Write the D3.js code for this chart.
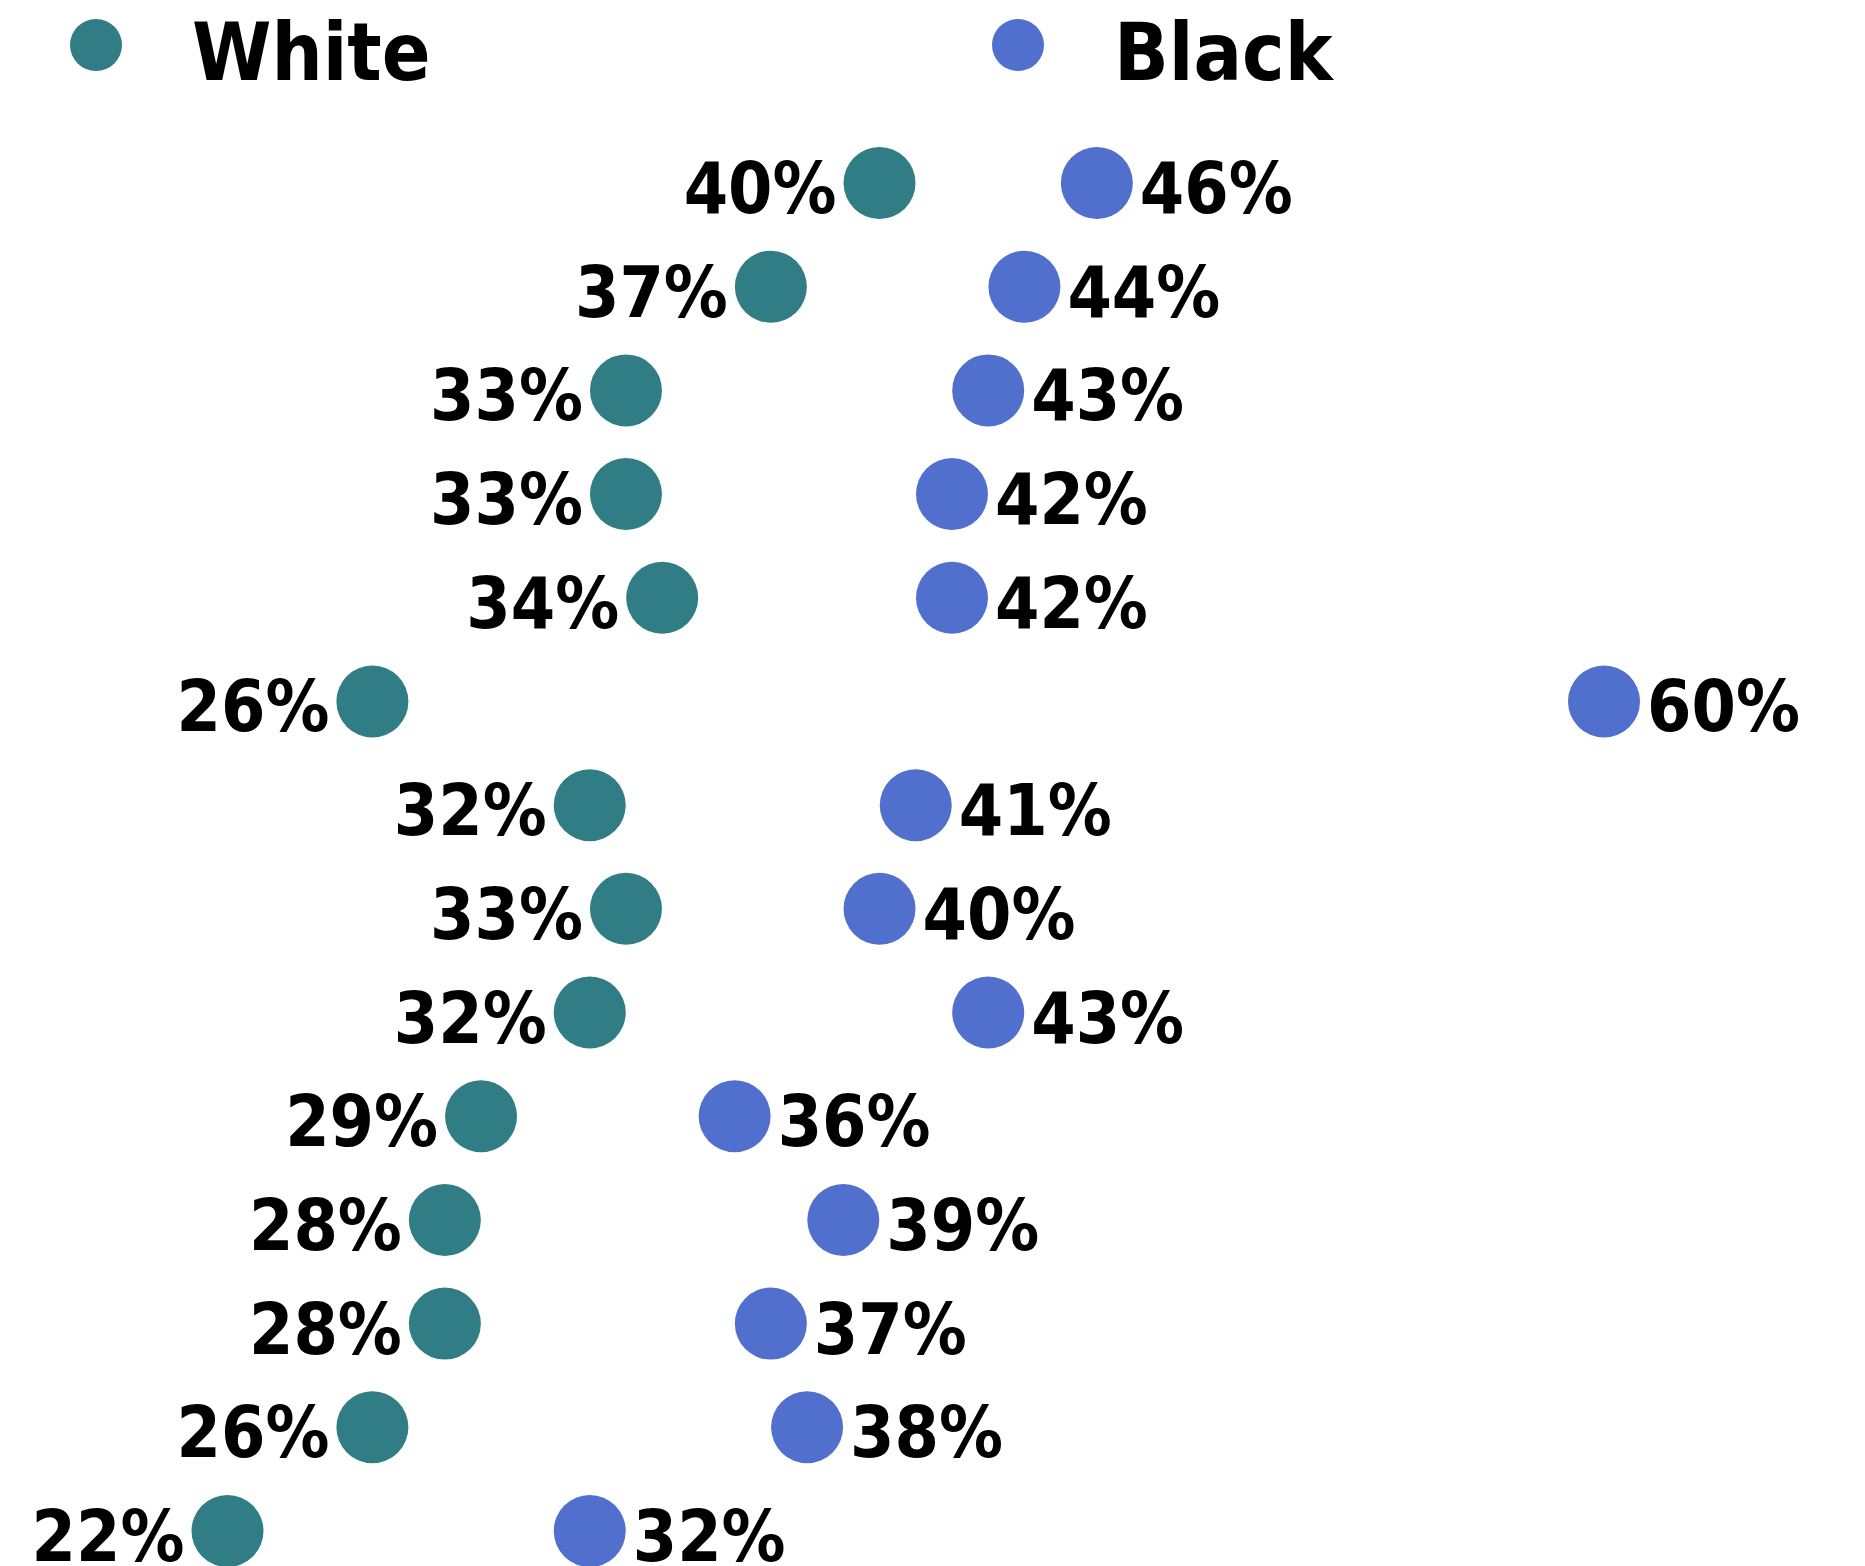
<!DOCTYPE html>
<html>
<head>
<meta charset="utf-8">
<script src="https://cdn.jsdelivr.net/npm/d3@7"></script>
<style>
  html, body { margin: 0; padding: 0; background: #fff; }
  svg { display: block; }
  text { font-family: 'DejaVu Sans Condensed', 'DejaVu Sans', sans-serif; font-stretch: condensed; font-weight: bold; fill: #000; }
</style>
</head>
<body>
<svg id="chart" width="1865" height="1566"></svg>
<script>
const categories = ["1","2","3","4","5","6","7","8","9","10","11","12","13","14"];
const white = [40,37,33,33,34,26,32,33,32,29,28,28,26,22];
const black = [46,44,43,42,42,60,41,40,43,36,39,37,38,32];
const seriesNames = ["White","Black"];
const colors = ["#317d86","#516fcd"];

const W = 1865, H = 1566;
const svg = d3.select("#chart");

const x = d3.scaleLinear()
  .domain([d3.min(white.concat(black)), d3.max(white.concat(black))])
  .range([227.5, 1604]);
const y = d3.scalePoint().domain(categories).range([183, 1531]);
const r = 36;

const rows = categories.map((c, i) => ({c, w: white[i], b: black[i]}));

// White dots
const gW = svg.append("g");
gW.selectAll("circle").data(rows).join("circle")
  .attr("cx", d => x(d.w)).attr("cy", d => y(d.c)).attr("r", r)
  .attr("fill", colors[0]);
gW.selectAll("text").data(rows).join("text")
  .attr("x", d => x(d.w) - r - 7).attr("y", d => y(d.c) + 30)
  .attr("text-anchor", "end").attr("font-size", 71)
  .text(d => d.w + "%");

// Black dots
const gB = svg.append("g");
gB.selectAll("circle").data(rows).join("circle")
  .attr("cx", d => x(d.b)).attr("cy", d => y(d.c)).attr("r", r)
  .attr("fill", colors[1]);
gB.selectAll("text").data(rows).join("text")
  .attr("x", d => x(d.b) + r + 7).attr("y", d => y(d.c) + 30)
  .attr("text-anchor", "start").attr("font-size", 71)
  .text(d => d.b + "%");

// Legend
const legX = [96, 1018];
const leg = svg.append("g").selectAll("g").data(seriesNames).join("g")
  .attr("transform", (d, i) => `translate(${legX[i]},45)`);
leg.append("circle").attr("r", 26).attr("fill", (d, i) => colors[i]);
leg.append("text").attr("x", 96).attr("y", 35).attr("font-size", 80).text(d => d);
</script>
</body>
</html>
